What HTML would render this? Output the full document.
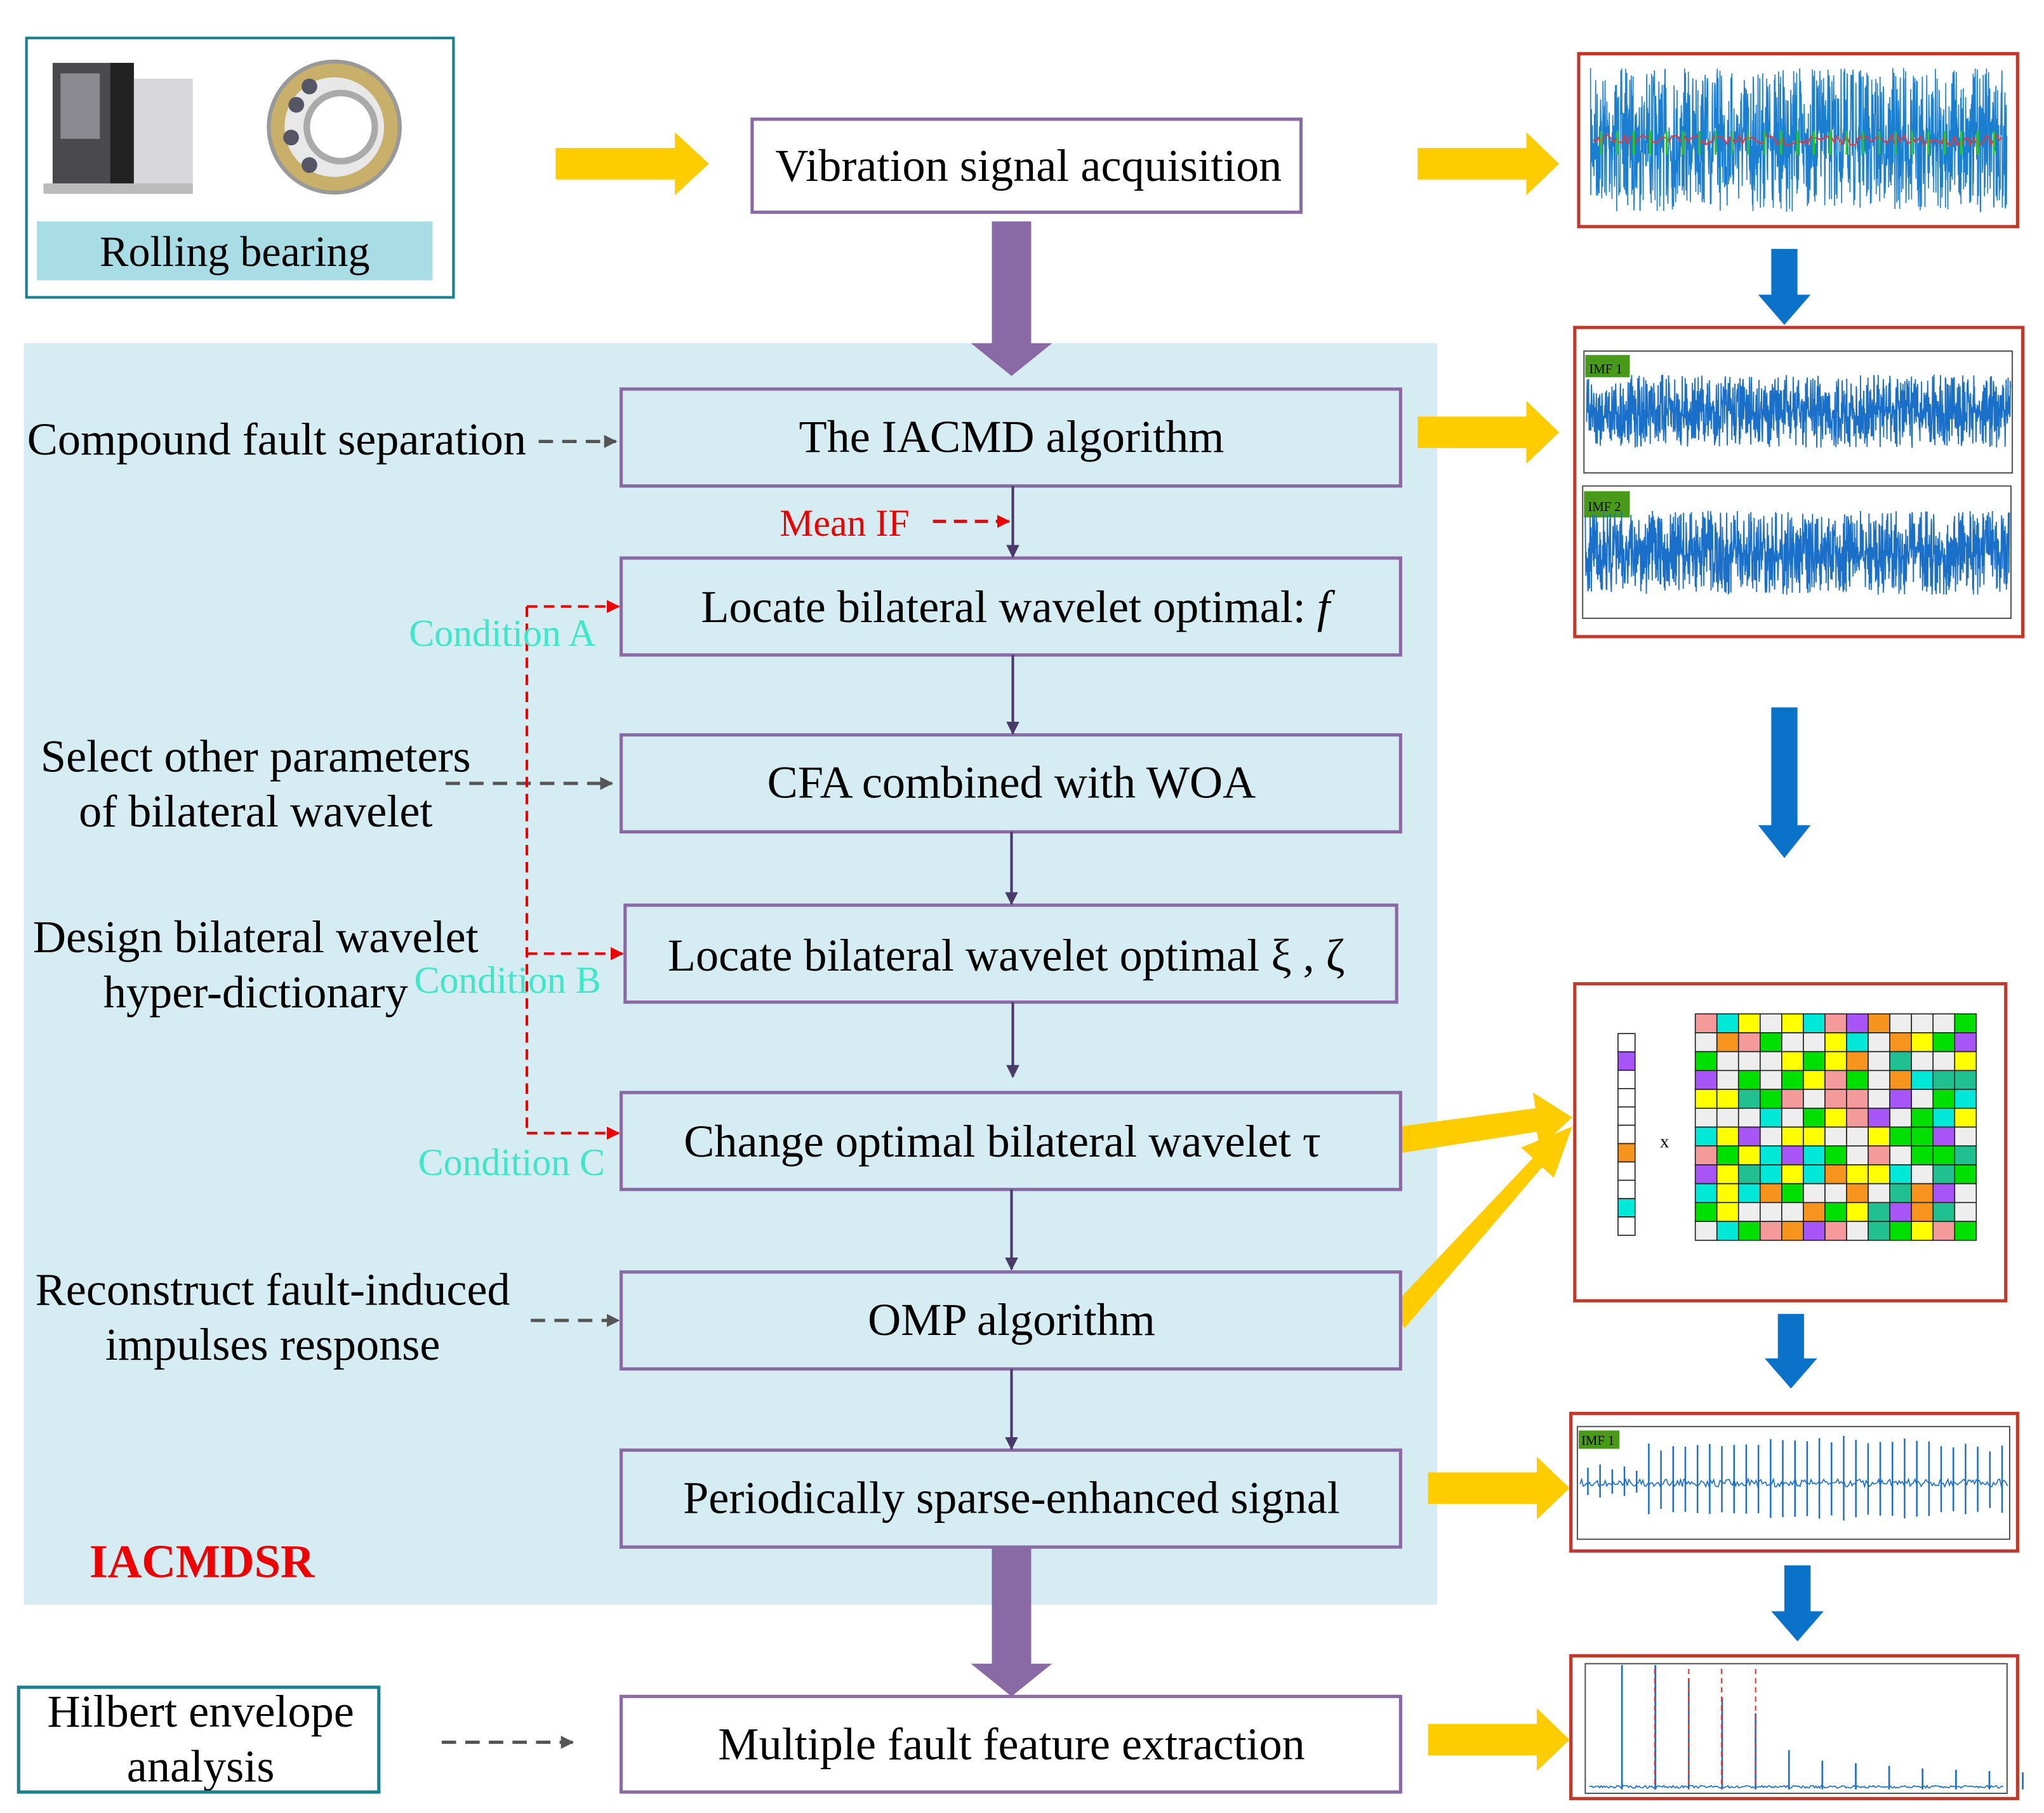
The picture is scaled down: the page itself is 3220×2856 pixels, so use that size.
<!DOCTYPE html>
<html><head><meta charset="utf-8">
<style>
html,body{margin:0;padding:0;background:#fff;}
svg{display:block;}
text{font-family:"Liberation Serif",serif;}
</style></head>
<body>
<svg id="s" width="3220" height="2856" viewBox="0 0 1560 1384" xmlns="http://www.w3.org/2000/svg">
<defs>
<marker id="ag" markerWidth="10" markerHeight="10" refX="9" refY="5" orient="auto" markerUnits="userSpaceOnUse"><path d="M0,0 L10,5 L0,10 Z" fill="#555"/></marker>
<marker id="ar" markerWidth="10" markerHeight="10" refX="9" refY="5" orient="auto" markerUnits="userSpaceOnUse"><path d="M0,0 L10,5 L0,10 Z" fill="#e00"/></marker>
<marker id="ap" markerWidth="10" markerHeight="10" refX="9" refY="5" orient="auto" markerUnits="userSpaceOnUse"><path d="M0,0 L10,5 L0,10 Z" fill="#4a3a6a"/></marker>
</defs>
<rect width="1560" height="1384" fill="#fff"/>
<rect x="18" y="262" width="1079" height="963" fill="#d4ecf2"/>
<rect x="20" y="29" width="326" height="198" fill="#fff" stroke="#1a7f8e" stroke-width="2"/>
<rect x="28" y="169" width="302" height="45" fill="#a8dde6"/>
<text x="179" y="203" font-size="33" text-anchor="middle">Rolling bearing</text>
<rect x="40" y="48" width="62" height="98" fill="#4a4a4e"/>
<rect x="46" y="56" width="30" height="50" fill="#8a8a90"/>
<rect x="95" y="60" width="52" height="86" fill="#d8d8dc"/>
<rect x="84" y="48" width="18" height="98" fill="#222"/>
<rect x="33" y="140" width="114" height="8" fill="#bbb"/>
<circle cx="255" cy="97" r="50" fill="#c8b06a" stroke="#999" stroke-width="3"/>
<circle cx="255" cy="97" r="38" fill="#e8e8e8"/>
<circle cx="260" cy="97" r="26" fill="#fff" stroke="#aaa" stroke-width="5"/>
<g fill="#556">
<circle cx="226" cy="80" r="6"/><circle cx="222" cy="105" r="6"/><circle cx="236" cy="126" r="6"/><circle cx="236" cy="66" r="6"/>
</g>
<g fill="#ffcc00">
<path d="M424,113 H515 V101 L541,125 L515,149 V137 H424 Z"/>
<path d="M1082,113 H1165 V101 L1190,125 L1165,149 V137 H1082 Z"/>
<path d="M1082,318 H1165 V306 L1190,330 L1165,354 V342 H1082 Z"/>
<path d="M1090,1124 H1173 V1112 L1198,1136 L1173,1160 V1148 H1090 Z"/>
<path d="M1090,1316 H1173 V1304 L1198,1328 L1173,1352 V1340 H1090 Z"/>
<path d="M1068,860 L1172,846 L1170,834 L1200,853 L1175,876 L1173,864 L1070,880 Z"/>
<path d="M1062,998 L1170,884 L1161,876 L1200,860 L1186,899 L1177,891 L1072,1014 Z"/>
</g>
<rect x="574" y="91" width="419" height="71" fill="#fff" stroke="#8a6aa5" stroke-width="2.5"/>
<text x="785" y="138" font-size="35" text-anchor="middle">Vibration signal acquisition</text>
<g fill="#8a6aa5">
<path d="M757,169 H787 V262 H803 L772,287 L741,262 H757 Z"/>
<path d="M757,1181 H787 V1270 H803 L772,1295 L741,1270 H757 Z"/>
</g>
<g fill="#d4ecf2" stroke="#8a6aa5" stroke-width="2.5">
<rect x="474" y="297" width="595" height="74"/>
<rect x="474" y="426" width="595" height="74"/>
<rect x="474" y="561" width="595" height="74"/>
<rect x="477" y="691" width="589" height="74"/>
<rect x="474" y="834" width="595" height="74"/>
<rect x="474" y="971" width="595" height="74"/>
<rect x="474" y="1107" width="595" height="74"/>
<rect x="474" y="1295" width="595" height="73" fill="#fff"/>
</g>
<g font-size="35" text-anchor="middle">
<text x="772" y="345">The IACMD algorithm</text>
<text x="775" y="475">Locate bilateral wavelet optimal: <tspan font-style="italic">f</tspan></text>
<text x="772" y="609">CFA combined with WOA</text>
<text x="768" y="741">Locate bilateral wavelet optimal ξ , ζ</text>
<text x="765" y="883">Change optimal bilateral wavelet  τ</text>
<text x="772" y="1019">OMP algorithm</text>
<text x="772" y="1155">Periodically sparse-enhanced signal</text>
<text x="772" y="1343">Multiple  fault feature extraction</text>
</g>
<g stroke="#4a3a6a" stroke-width="2" marker-end="url(#ap)">
<line x1="773" y1="371" x2="773" y2="425"/>
<line x1="773" y1="500" x2="773" y2="560"/>
<line x1="772" y1="635" x2="772" y2="690"/>
<line x1="773" y1="765" x2="773" y2="822"/>
<line x1="772" y1="908" x2="772" y2="969"/>
<line x1="772" y1="1045" x2="772" y2="1106"/>
</g>
<text x="595" y="409" font-size="29" fill="#e00">Mean IF</text>
<line x1="712" y1="398" x2="770" y2="398" stroke="#e00" stroke-width="2.5" stroke-dasharray="10,6" marker-end="url(#ar)"/>
<g font-size="35" text-anchor="middle">
<text x="211" y="347">Compound fault separation</text>
<text x="195" y="589">Select other parameters</text>
<text x="195" y="631">of bilateral wavelet</text>
<text x="195" y="727">Design bilateral wavelet</text>
<text x="195" y="769">hyper-dictionary</text>
<text x="208" y="996">Reconstruct fault-induced</text>
<text x="208" y="1038">impulses response</text>
<text x="153" y="1318">Hilbert envelope</text>
<text x="153" y="1360">analysis</text>
</g>
<g stroke="#555" stroke-width="2.5" stroke-dasharray="11,7" marker-end="url(#ag)">
<line x1="411" y1="337" x2="470" y2="337"/>
<line x1="340" y1="598" x2="467" y2="598"/>
<line x1="405" y1="1008" x2="472" y2="1008"/>
<line x1="337" y1="1330" x2="437" y2="1330"/>
</g>
<path d="M402,463 V865" stroke="#e00" stroke-width="2" stroke-dasharray="8,5" fill="none"/>
<g stroke="#e00" stroke-width="2" stroke-dasharray="8,5" marker-end="url(#ar)">
<line x1="402" y1="463" x2="472" y2="463"/>
<line x1="402" y1="728" x2="475" y2="728"/>
<line x1="402" y1="865" x2="472" y2="865"/>
</g>
<g font-size="29" fill="#3de8c8">
<text x="312" y="493">Condition A</text>
<text x="316" y="758">Condition B</text>
<text x="319" y="897">Condition C</text>
</g>
<text x="68" y="1204" font-size="36" font-weight="bold" fill="#e00">IACMDSR</text>
<rect x="14" y="1288" width="275" height="80" fill="none" stroke="#1a7f8e" stroke-width="2.5"/>
<g fill="#0a72c8">
<path d="M1352,190 H1372 V225 H1382 L1362,248 L1342,225 H1352 Z"/>
<path d="M1352,540 H1372 V630 H1382 L1362,655 L1342,630 H1352 Z"/>
<path d="M1357,1003 H1377 V1037 H1387 L1367,1060 L1347,1037 H1357 Z"/>
<path d="M1362,1195 H1382 V1230 H1392 L1372,1253 L1352,1230 H1362 Z"/>
</g>
<g fill="#fff" stroke="#c0392b" stroke-width="2.5">
<rect x="1205" y="41" width="335" height="132"/>
<rect x="1202" y="250" width="342" height="236"/>
<rect x="1202" y="751" width="329" height="242"/>
<rect x="1199" y="1079" width="341" height="105"/>
<rect x="1199" y="1264" width="341" height="109"/>
</g>
<g fill="none" stroke="#555" stroke-width="1">
<rect x="1209" y="268" width="327" height="93"/>
<rect x="1208" y="371" width="327" height="101"/>
<rect x="1204" y="1089" width="330" height="86"/>
<rect x="1210" y="1270" width="322" height="99"/>
</g>
<g font-size="10">
<rect x="1210" y="271" width="34" height="17" fill="#4a9a1a"/><text x="1213" y="285" font-family="Liberation Sans,sans-serif">IMF 1</text>
<rect x="1209" y="375" width="35" height="20" fill="#4a9a1a"/><text x="1212" y="390" font-family="Liberation Sans,sans-serif">IMF 2</text>
<rect x="1205" y="1092" width="31" height="14" fill="#4a9a1a"/><text x="1207" y="1103" font-family="Liberation Sans,sans-serif">IMF 1</text>
</g>
<g id="sig"></g>
<text x="1267" y="876" font-size="14" font-family="Liberation Sans,sans-serif">x</text>
</svg>
<script>
(function(){
var g=document.getElementById('sig'),NS='http://www.w3.org/2000/svg';
var seed=7;function r(){seed=(seed*16807)%2147483647;return seed/2147483647;}
function pl(pts,c,w){var p=document.createElementNS(NS,'polyline');p.setAttribute('points',pts.join(' '));p.setAttribute('fill','none');p.setAttribute('stroke',c);p.setAttribute('stroke-width',w);g.appendChild(p);}
function noise(x0,x1,yc,amp,n){var a=[];for(var i=0;i<n;i++){var x=x0+(x1-x0)*i/n;var v=(r()-0.5)*2;v=v*Math.abs(v)*0.6+v*0.4;a.push(x.toFixed(1)+','+(yc+v*amp).toFixed(1));}return a;}
pl(noise(1214,1532,107,55,1400),'#1a7fd0',0.8);
var red=[];for(var x=1216;x<1530;x+=2){red.push(x+','+(107+(r()-0.5)*8));}pl(red,'#e33',1);
for(var x=1222;x<1530;x+=12.5){pl([x+',100',x+',118'],'#2c2',1.5);}
pl(noise(1211,1535,314,28,1300),'#1a6fc8',0.9);
pl(noise(1210,1534,422,32,1300),'#1a6fc8',0.9);
var a=[];for(var x=1206;x<1533;x+=1.2){a.push(x+','+(1132+(r()-0.5)*6));}pl(a,'#1a6fc8',0.8);
for(var x=1212;x<1530;x+=9.3){var h=8+ (x>1255?16:0)+r()*6;if(x>1350&&x<1480)h+=6;pl([x+','+(1132-h),x+','+(1132+h*0.8)],'#1a6fc8',1.2);}
var b=[];for(var x=1213;x<1530;x+=1){b.push(x+','+(1365-r()*2));}pl(b,'#1a6fc8',0.8);
var hs=[95,95,85,70,58,30,22,20,18,16,15,14,13];for(var i=0;i<hs.length;i++){var x=1238+i*25.5;pl([x+',1366',x+','+(1366-hs[i])],'#1a6fc8',1.3);}
[1263,1289,1314,1340].forEach(function(x){var l=document.createElementNS(NS,'line');l.setAttribute('x1',x);l.setAttribute('x2',x);l.setAttribute('y1',1274);l.setAttribute('y2',1366);l.setAttribute('stroke','#e33');l.setAttribute('stroke-dasharray','4,3');g.appendChild(l);});
var cols=['#eee','#eee','#eee','#f59a9a','#ffff00','#00e000','#00e8d8','#f7941d','#a855f7','#20c090'];
for(var i=0;i<12;i++)for(var j=0;j<13;j++){var rc=document.createElementNS(NS,'rect');rc.setAttribute('x',1294+j*16.5);rc.setAttribute('y',774+i*14.4);rc.setAttribute('width',16.5);rc.setAttribute('height',14.4);rc.setAttribute('fill',cols[Math.floor(r()*cols.length)]);rc.setAttribute('stroke','#222');rc.setAttribute('stroke-width','0.8');g.appendChild(rc);}
for(var i=0;i<11;i++){var rc=document.createElementNS(NS,'rect');rc.setAttribute('x',1235);rc.setAttribute('y',789+i*14);rc.setAttribute('width',13);rc.setAttribute('height',14);var f='#fff';if(i==1)f='#a855f7';if(i==6)f='#f7941d';if(i==9)f='#00e8d8';rc.setAttribute('fill',f);rc.setAttribute('stroke','#222');rc.setAttribute('stroke-width','0.8');g.appendChild(rc);}
})();
</script>
</body></html>
